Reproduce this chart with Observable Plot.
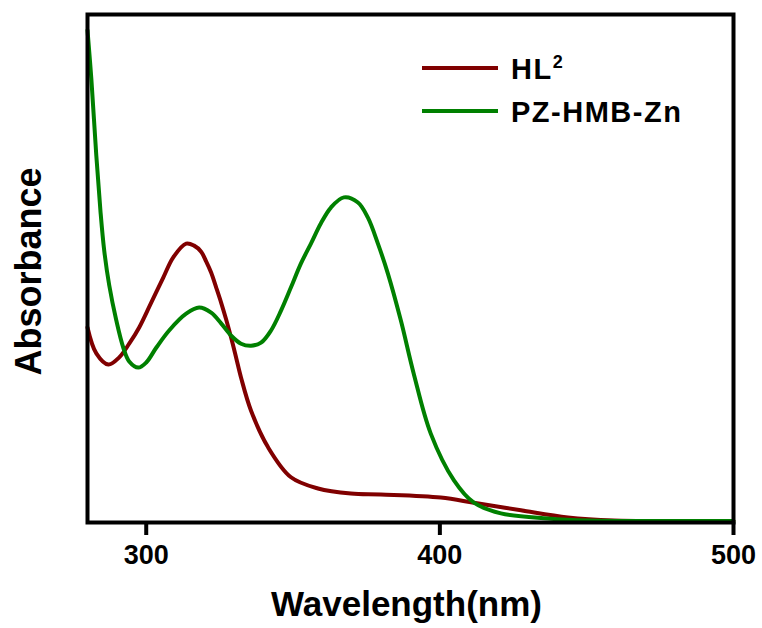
<!DOCTYPE html>
<html><head><meta charset="utf-8">
<script src="https://cdn.jsdelivr.net/npm/d3@7"></script>
<script src="https://cdn.jsdelivr.net/npm/@observablehq/plot@0.6"></script>
<style>
body{margin:0;background:#fff;}
svg{font-family:"Liberation Sans",Arial,sans-serif;}
g[aria-label="x-axis tick label"] text{font-size:27px !important;font-weight:bold !important;}
</style>
</head><body><div id="chart"></div>
<script>
// Series names and colours
const seriesNames = ["HL2", "PZ-HMB-Zn"];
const seriesColors = ["#800000", "#008000"];
const xTicks = [300, 400, 500];

// HL2 spectrum (wavelength nm, absorbance a.u.)
const wlHL2 = [280, 283.0, 287.1, 290.8, 294.2, 297.6, 301.7, 305.8, 309.2, 313.6, 316.3, 318.7, 320.4, 322.1, 323.8, 325.5, 327.2, 328.9, 330.6, 332.3, 335.7, 341.5, 349.3, 358.5, 369.7, 379.9, 400.3, 411.6, 427.6, 443.6, 459.2, 480, 500];
const absHL2 = [0.384, 0.333, 0.311, 0.325, 0.352, 0.384, 0.433, 0.482, 0.522, 0.549, 0.545, 0.533, 0.514, 0.492, 0.463, 0.433, 0.400, 0.364, 0.325, 0.285, 0.220, 0.148, 0.089, 0.067, 0.057, 0.055, 0.049, 0.039, 0.024, 0.010, 0.004, 0.003, 0.003];

// PZ-HMB-Zn spectrum
const wlZn = [280, 281.3, 283.0, 284.4, 285.7, 287.4, 289.8, 292.2, 294.2, 297.3, 300.0, 303.4, 307.8, 313.6, 318.0, 322.1, 325.5, 328.9, 332.3, 335.7, 339.1, 342.5, 345.9, 349.3, 352.7, 356.1, 359.5, 362.9, 367.3, 372.1, 375.5, 378.9, 382.3, 386.7, 391.1, 396.9, 404.8, 411.6, 420.8, 436.8, 450.4, 475, 500];
const absZn = [0.969, 0.874, 0.722, 0.614, 0.535, 0.467, 0.398, 0.344, 0.317, 0.305, 0.315, 0.344, 0.378, 0.411, 0.423, 0.413, 0.392, 0.368, 0.352, 0.348, 0.354, 0.378, 0.417, 0.463, 0.510, 0.549, 0.589, 0.620, 0.640, 0.630, 0.600, 0.549, 0.490, 0.398, 0.293, 0.175, 0.083, 0.039, 0.018, 0.008, 0.004, 0.003, 0.003];

const data = [
  ...wlHL2.map((w, i) => ({series: seriesNames[0], wavelength: w, absorbance: absHL2[i]})),
  ...wlZn.map((w, i) => ({series: seriesNames[1], wavelength: w, absorbance: absZn[i]}))
];

const font = '"Liberation Sans", Arial, sans-serif';

const plot = Plot.plot({
  width: 762, height: 628,
  marginLeft: 87, marginRight: 29, marginTop: 14, marginBottom: 106,
  style: {fontFamily: font, background: "white", color: "black"},
  x: {domain: [280, 500]},
  y: {domain: [0, 1], axis: null},
  color: {domain: seriesNames, range: seriesColors},
  marks: [
    Plot.line(data, {x: "wavelength", y: "absorbance", z: "series", stroke: "series", strokeWidth: 4, curve: "catmull-rom"}),
    Plot.frame({stroke: "black", strokeWidth: 4}),
    Plot.axisX({ticks: xTicks, tickSize: 13, strokeWidth: 4, tickPadding: 9, fontSize: 27, fontWeight: "bold", label: null, tickFormat: d => String(d)}),
    Plot.text(["Wavelength(nm)"], {frameAnchor: "bottom", lineAnchor: "bottom", dy: 93, dx: -4, fontSize: 35, fontWeight: "bold", text: d => d}),
    Plot.text(["Absorbance"], {frameAnchor: "left", textAnchor: "middle", rotate: -90, dx: -58, dy: 3, fontSize: 36, fontWeight: "bold", text: d => d})
  ]
});

document.getElementById("chart").appendChild(plot);

const svg = d3.select(plot);

// Legend inside plot area (top right)
const lg = svg.append("g").attr("font-family", font).attr("font-weight", "bold").attr("font-size", 29).attr("text-anchor", "start");
const rowY = [68, 111];
seriesNames.forEach((name, i) => {
  const y = rowY[i];
  lg.append("line").attr("x1", 422).attr("x2", 498).attr("y1", y).attr("y2", y)
    .attr("stroke", seriesColors[i]).attr("stroke-width", 4);
  const t = lg.append("text").attr("x", 511).attr("y", y + 11).attr("fill", "black").attr("letter-spacing", 1.5).attr("text-anchor", "start");
  if (name === "HL2") {
    t.append("tspan").text("HL");
    t.append("tspan").attr("dy", -11).attr("font-size", 18).text("2");
  } else {
    t.text(name);
  }
});
</script>
</body></html>
